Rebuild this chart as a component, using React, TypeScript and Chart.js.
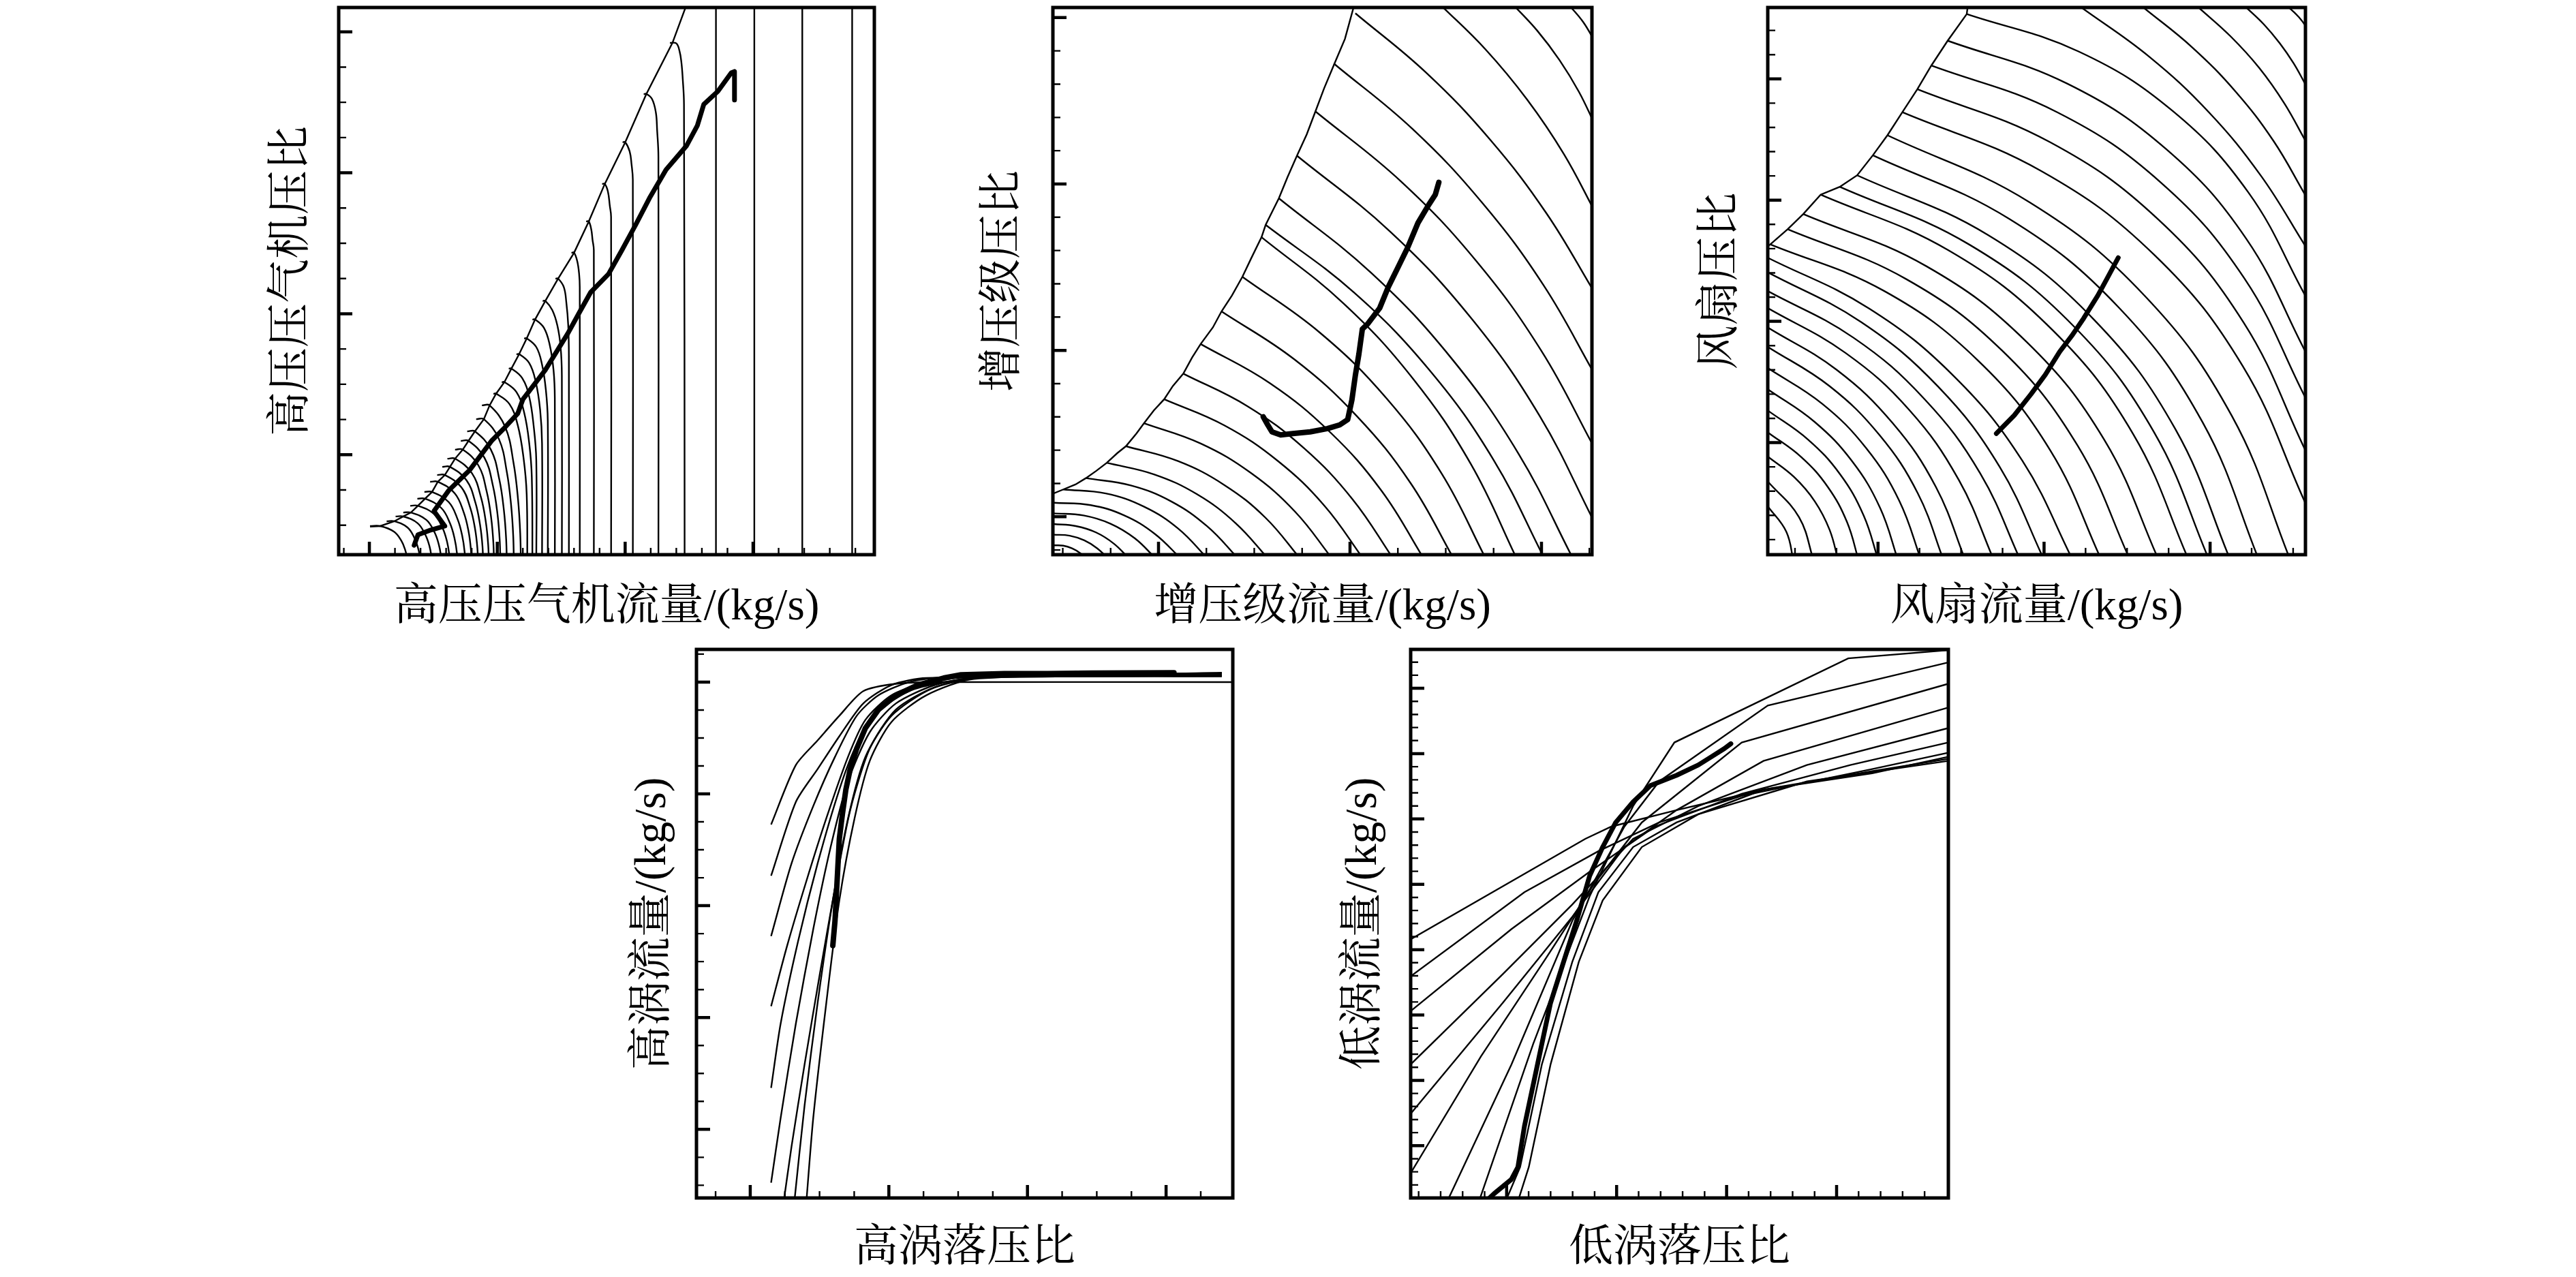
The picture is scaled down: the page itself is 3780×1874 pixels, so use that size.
import React, { useEffect, useRef } from "react";
import { Chart, registerables } from "chart.js";

Chart.register(...registerables);

type Pt = [number, number];

const INK = "#000000";
const FONT_FAMILY = "'Liberation Serif', 'Noto Serif CJK SC', 'Noto Sans CJK SC', serif";

// ================= HPC map (高压压气机) =================
const hpcXMajor = [20, 40, 60, 80];
const hpcXMinor = [16, 24, 28, 32, 36, 44, 48, 52, 56, 64, 68, 72, 76, 84, 88, 92, 96];
const hpcYMajor = [5, 10, 15, 20];
const hpcYMinor = [2.5, 3.75, 6.25, 7.5, 8.75, 11.25, 12.5, 13.75, 16.25, 17.5, 18.75];

const hpcSpeedLines: Pt[][] = [
  [[95.5, 21.5], [95.5, 1.0]],
  [[87.7, 21.5], [87.7, 1.0]],
  [[80.2, 21.5], [80.2, 1.0]],
  [[74.2, 21.5], [74.2, 1.0]],
  [[67.0, 19.61], [68.0, 19.59], [68.5, 19.32], [68.8, 18.91], [69.0, 18.35], [69.2, 17.43], [69.3, 1.0]],
  [[62.9, 17.79], [63.3, 17.8], [64.2, 17.62], [64.8, 17.14], [65.0, 16.51], [65.2, 15.57], [65.2, 1.0]],
  [[59.6, 16.08], [60.0, 16.09], [60.7, 15.76], [61.0, 15.3], [61.2, 14.75], [61.2, 1.0]],
  [[56.4, 14.6], [56.8, 14.61], [57.3, 14.34], [57.6, 13.83], [57.8, 13.44], [57.8, 1.0]],
  [[53.9, 13.27], [54.3, 13.28], [54.7, 12.99], [54.9, 12.62], [55.1, 12.26], [55.1, 1.0]],
  [[51.6, 12.16], [52.0, 12.17], [52.5, 11.87], [52.8, 11.41], [52.9, 10.95], [52.9, 1.0]],
  [[49.1, 11.24], [49.5, 11.25], [50.4, 10.95], [50.8, 10.4], [51.1, 9.58], [51.2, 8.5], [51.2, 1.0]],
  [[47.1, 10.45], [47.5, 10.46], [48.6, 10.13], [49.4, 9.58], [49.9, 8.83], [50.1, 7.8], [50.1, 1.0]],
  [[45.5, 9.79], [45.9, 9.8], [47.3, 9.5], [48.2, 8.9], [48.8, 8.0], [49.0, 7.0], [49.0, 1.0]],
  [[44.2, 9.12], [44.6, 9.13], [46.1, 8.82], [47.0, 8.2], [47.6, 7.3], [47.9, 6.2], [47.9, 1.0]],
  [[43.0, 8.56], [43.4, 8.57], [45.0, 8.25], [46.0, 7.6], [46.7, 6.6], [47.0, 5.4], [47.0, 1.0]],
  [[41.8, 8.05], [42.2, 8.06], [43.9, 7.72], [45.0, 7.05], [45.7, 6.0], [46.1, 4.8], [46.1, 1.0]],
  [[40.7, 7.57], [41.1, 7.58], [43.0, 7.22], [44.2, 6.5], [45.0, 5.4], [45.4, 4.2], [45.5, 1.0]],
  [[39.4, 7.16], [39.8, 7.17], [41.9, 6.8], [43.2, 6.05], [44.1, 4.9], [44.6, 3.6], [44.7, 1.0]],
  [[37.6, 6.75], [38.8, 6.75], [41.25, 5.98], [42.55, 4.7], [43.24, 3.43], [43.59, 2.2], [43.7, 1.0]],
  [[36.7, 6.26], [37.9, 6.26], [40.25, 5.56], [41.5, 4.38], [42.16, 3.22], [42.5, 2.09], [42.6, 1.0]],
  [[35.3, 5.83], [36.5, 5.83], [39.0, 5.18], [40.33, 4.11], [41.03, 3.04], [41.39, 2.0], [41.5, 1.0]],
  [[34.3, 5.49], [35.5, 5.49], [38.0, 4.89], [39.33, 3.89], [40.03, 2.9], [40.39, 1.93], [40.5, 1.0]],
  [[33.4, 5.18], [34.6, 5.18], [37.05, 4.62], [38.35, 3.69], [39.04, 2.77], [39.39, 1.87], [39.5, 1.0]],
  [[32.2, 4.86], [33.4, 4.86], [36.05, 4.34], [37.46, 3.48], [38.2, 2.63], [38.58, 1.8], [38.7, 1.0]],
  [[31.4, 4.57], [32.6, 4.57], [35.2, 4.09], [36.58, 3.3], [37.31, 2.51], [37.69, 1.74], [37.8, 1.0]],
  [[30.6, 4.28], [31.8, 4.28], [34.4, 3.84], [35.78, 3.11], [36.51, 2.39], [36.89, 1.68], [37.0, 1.0]],
  [[29.5, 4.04], [30.7, 4.04], [33.35, 3.63], [34.76, 2.95], [35.5, 2.29], [35.88, 1.63], [36.0, 1.0]],
  [[28.6, 3.68], [29.8, 3.68], [32.4, 3.32], [33.78, 2.72], [34.51, 2.13], [34.89, 1.56], [35.0, 1.0]],
  [[27.5, 3.44], [28.7, 3.44], [31.25, 3.11], [32.6, 2.57], [33.32, 2.03], [33.69, 1.51], [33.8, 1.0]],
  [[26.4, 3.19], [27.6, 3.19], [30.1, 2.9], [31.43, 2.41], [32.13, 1.93], [32.49, 1.46], [32.6, 1.0]],
  [[25.3, 2.95], [26.5, 2.95], [28.9, 2.69], [30.18, 2.25], [30.85, 1.82], [31.19, 1.41], [31.3, 1.0]],
  [[24.1, 2.81], [25.3, 2.81], [27.55, 2.57], [28.75, 2.16], [29.38, 1.77], [29.7, 1.38], [29.8, 1.0]],
  [[22.7, 2.64], [23.9, 2.64], [25.95, 2.42], [27.04, 2.05], [27.61, 1.69], [27.91, 1.34], [28.0, 1.0]],
  [[20.1, 2.47], [21.7, 2.47], [23.85, 2.27], [24.99, 1.95], [25.6, 1.62], [25.91, 1.31], [26.0, 1.0]],
];

const hpcSurgeLine: Pt[] = [
  [69.5, 20.9], [67.4, 19.61], [63.3, 17.79], [60.0, 16.08], [56.8, 14.6], [54.3, 13.27], [52.0, 12.16],
  [49.5, 11.24], [47.5, 10.45], [45.9, 9.79], [44.6, 9.12], [43.4, 8.56], [42.2, 8.05], [41.1, 7.57],
  [39.8, 7.16], [38.8, 6.75], [37.9, 6.26], [36.5, 5.83], [35.5, 5.49], [34.6, 5.18], [33.4, 4.86],
  [32.6, 4.57], [31.8, 4.28], [30.7, 4.04], [29.8, 3.68], [28.7, 3.44], [27.6, 3.19], [26.5, 2.95],
  [25.3, 2.81], [23.9, 2.64], [21.7, 2.47], [20.1, 2.45],
];

const hpcOperatingLine: Pt[] = [
  [27.0, 1.79], [27.6, 2.16], [29.6, 2.33], [31.8, 2.47], [30.1, 3.0], [32.4, 3.73], [35.7, 4.46],
  [39.1, 5.49], [41.2, 5.97], [43.2, 6.46], [44.0, 6.96], [47.5, 8.0], [51.0, 9.29], [52.8, 10.03],
  [54.6, 10.76], [57.4, 11.41], [59.5, 12.26], [61.7, 13.18], [63.8, 14.1], [66.4, 15.11], [69.6, 15.96],
  [71.3, 16.68], [72.3, 17.43], [74.5, 17.89], [76.6, 18.55], [77.1, 18.59], [77.1, 17.58],
];

// ================= Booster map (增压级) =================
const bstXMajor = [20, 40, 60];
const bstXMinor = [10, 15, 25, 30, 35, 45, 50, 55, 65];
const bstYMajor = [1.5, 2.0, 2.5, 3.0];
const bstYMinor = [1.4, 1.6, 1.7, 1.8, 1.9, 2.1, 2.2, 2.3, 2.4, 2.6, 2.7, 2.8, 2.9];

const bstSpeedLines: Pt[][] = [
  [[9.05, 1.414], [10.05, 1.413], [10.96, 1.405], [11.79, 1.391], [12.53, 1.372]],
  [[9.05, 1.446], [10.72, 1.443], [12.24, 1.429], [13.6, 1.405], [14.82, 1.372]],
  [[9.05, 1.478], [11.36, 1.472], [13.46, 1.453], [15.34, 1.419], [17.0, 1.372]],
  [[9.05, 1.51], [12.16, 1.504], [14.99, 1.479], [17.53, 1.435], [19.79, 1.372]],
  [[9.05, 1.542], [12.91, 1.535], [16.42, 1.504], [19.59, 1.449], [22.41, 1.372]],
  [[10.06, 1.582], [14.49, 1.57], [18.5, 1.53], [22.07, 1.464], [25.2, 1.372]],
  [[12.42, 1.616], [17.11, 1.594], [21.33, 1.546], [25.09, 1.471], [28.4, 1.372]],
  [[14.6, 1.662], [19.57, 1.627], [24.05, 1.567], [28.04, 1.481], [31.52, 1.372]],
  [[16.6, 1.712], [22.04, 1.667], [26.89, 1.595], [31.17, 1.497], [34.86, 1.372]],
  [[18.49, 1.781], [24.41, 1.72], [29.67, 1.631], [34.27, 1.515], [38.2, 1.372]],
  [[20.59, 1.853], [26.91, 1.774], [32.49, 1.667], [37.33, 1.533], [41.43, 1.372]],
  [[22.59, 1.93], [29.3, 1.832], [35.19, 1.706], [40.28, 1.552], [44.56, 1.372]],
  [[24.4, 2.019], [31.65, 1.901], [37.96, 1.753], [43.32, 1.577], [47.75, 1.372]],
  [[26.58, 2.117], [34.18, 1.973], [40.76, 1.801], [46.33, 1.601], [50.87, 1.372]],
  [[28.76, 2.221], [36.86, 2.053], [43.81, 1.856], [49.59, 1.629], [54.22, 1.372]],
  [[30.76, 2.34], [39.29, 2.142], [46.58, 1.915], [52.63, 1.658], [57.45, 1.372]],
  [[31.19, 2.377], [40.41, 2.174], [48.35, 1.939], [54.99, 1.671], [60.35, 1.372]],
  [[32.57, 2.457], [42.21, 2.233], [50.54, 1.978], [57.59, 1.69], [63.33, 1.372]],
  [[34.46, 2.585], [44.23, 2.356], [52.68, 2.096], [59.81, 1.803], [65.62, 1.478]],
  [[36.39, 2.718], [45.39, 2.506], [53.26, 2.266], [60.0, 1.998], [65.62, 1.702]],
  [[38.31, 2.862], [46.58, 2.664], [53.88, 2.441], [60.23, 2.195], [65.62, 1.925]],
  [[40.56, 3.013], [48.01, 2.833], [54.67, 2.632], [60.54, 2.411], [65.62, 2.17]],
  [[49.28, 3.043], [54.17, 2.904], [58.52, 2.753], [62.34, 2.59], [65.62, 2.415]],
  [[56.9, 3.043], [59.55, 2.961], [61.89, 2.872], [63.91, 2.777], [65.62, 2.676]],
  [[62.71, 3.043], [64.35, 2.987], [65.62, 2.926]],
];

const bstSurgeLine: Pt[] = [
  [40.49, 3.043], [39.47, 2.936], [38.38, 2.862], [37.29, 2.787], [36.39, 2.718], [35.48, 2.649],
  [34.46, 2.585], [33.48, 2.521], [32.57, 2.457], [31.19, 2.377], [30.76, 2.34], [29.67, 2.276],
  [28.76, 2.221], [27.67, 2.165], [26.58, 2.117], [25.68, 2.069], [24.4, 2.019], [23.5, 1.978],
  [22.59, 1.93], [21.5, 1.893], [20.59, 1.853], [19.5, 1.819], [18.49, 1.781], [17.69, 1.75],
  [16.6, 1.712], [15.69, 1.691], [14.6, 1.662], [13.51, 1.638], [12.42, 1.616], [11.33, 1.597],
  [10.06, 1.582], [8.61, 1.565],
];

const bstOperatingLine: Pt[] = [
  [30.94, 1.8], [31.41, 1.776], [31.85, 1.755], [32.76, 1.746], [34.03, 1.75], [35.84, 1.755],
  [37.66, 1.765], [38.93, 1.776], [39.76, 1.792], [40.2, 1.851], [40.56, 1.925], [40.93, 1.989],
  [41.29, 2.064], [41.83, 2.079], [43.1, 2.127], [44.01, 2.191], [44.92, 2.244], [46.01, 2.308],
  [47.1, 2.383], [48.19, 2.436], [48.91, 2.468], [49.28, 2.505],
];

// ================= Fan map (风扇) =================
const fanXMajor = [200, 300, 400];
const fanXMinor = [150, 175, 225, 250, 275, 325, 350, 375, 425, 450];
const fanYMajor = [1.2, 1.4, 1.6, 1.8];
const fanYMinor = [1.04, 1.08, 1.12, 1.16, 1.24, 1.28, 1.32, 1.36, 1.44, 1.48, 1.52, 1.56, 1.64, 1.68, 1.72, 1.76, 1.84, 1.88];

const fanSpeedLines: Pt[][] = [
  [[442.24, 1.93], [453.42, 1.902], [462.35, 1.868]],
  [[421.71, 1.918], [432.38, 1.89], [441.88, 1.859], [450.23, 1.826], [457.42, 1.791]],
  [[392.99, 1.918], [412.4, 1.87], [429.62, 1.818], [444.62, 1.76], [457.42, 1.698]],
  [[359.74, 1.918], [389.25, 1.852], [415.37, 1.779], [438.09, 1.698], [457.42, 1.608]],
  [[322.39, 1.918], [363.16, 1.837], [399.26, 1.745], [430.67, 1.64], [457.42, 1.524]],
  [[253.44, 1.907], [320.98, 1.845], [377.49, 1.747], [422.97, 1.613], [457.42, 1.442]],
  [[241.95, 1.863], [314.1, 1.792], [374.06, 1.683], [421.83, 1.536], [457.42, 1.35]],
  [[232.1, 1.822], [307.94, 1.745], [370.77, 1.628], [420.6, 1.471], [457.42, 1.274]],
  [[223.69, 1.783], [303.32, 1.696], [368.82, 1.568], [420.19, 1.398], [457.42, 1.187]],
  [[214.66, 1.745], [298.3, 1.648], [366.64, 1.509], [419.68, 1.326], [457.42, 1.1]],
  [[205.67, 1.707], [291.53, 1.596], [360.67, 1.442], [413.1, 1.244], [448.8, 1.003]],
  [[196.89, 1.674], [279.06, 1.569], [345.29, 1.422], [395.58, 1.233], [429.92, 1.003]],
  [[187.45, 1.641], [266.49, 1.542], [330.37, 1.402], [379.11, 1.222], [412.69, 1.003]],
  [[176.98, 1.622], [254.77, 1.527], [317.86, 1.392], [366.26, 1.217], [399.96, 1.003]],
  [[165.45, 1.609], [242.58, 1.517], [305.32, 1.385], [353.68, 1.214], [387.65, 1.003]],
  [[154.98, 1.577], [229.07, 1.491], [289.54, 1.366], [336.38, 1.204], [369.59, 1.003]],
  [[145.58, 1.552], [216.82, 1.47], [275.03, 1.351], [320.21, 1.195], [352.35, 1.003]],
  [[135.12, 1.527], [203.79, 1.45], [260.01, 1.336], [303.79, 1.187], [335.12, 1.003]],
  [[133.6, 1.505], [194.8, 1.421], [245.91, 1.309], [286.94, 1.17], [317.88, 1.003]],
  [[133.6, 1.481], [189.75, 1.399], [236.31, 1.292], [273.27, 1.16], [300.64, 1.003]],
  [[133.6, 1.45], [185.25, 1.373], [227.91, 1.272], [261.59, 1.149], [286.28, 1.003]],
  [[133.6, 1.422], [180.4, 1.348], [218.77, 1.254], [248.73, 1.138], [270.27, 1.003]],
  [[133.6, 1.39], [175.12, 1.32], [208.86, 1.232], [234.83, 1.127], [253.03, 1.003]],
  [[133.6, 1.358], [170.87, 1.293], [201.01, 1.212], [224.02, 1.116], [239.9, 1.003]],
  [[133.6, 1.323], [166.43, 1.264], [192.83, 1.191], [212.81, 1.104], [226.36, 1.003]],
  [[133.6, 1.288], [161.88, 1.234], [184.45, 1.169], [201.28, 1.092], [212.4, 1.003]],
  [[133.6, 1.253], [157.85, 1.205], [177.08, 1.148], [191.3, 1.08], [200.5, 1.003]],
  [[133.6, 1.217], [153.82, 1.176], [169.72, 1.127], [181.32, 1.069], [188.6, 1.003]],
  [[133.6, 1.177], [149.52, 1.143], [161.94, 1.103], [170.86, 1.056], [176.28, 1.003]],
  [[133.6, 1.136], [152.41, 1.077], [161.51, 1.003]],
  [[133.6, 1.095], [144.76, 1.053], [149.2, 1.003]],
];

const fanSurgeLine: Pt[] = [
  [254.26, 1.925], [253.44, 1.907], [241.95, 1.863], [232.1, 1.822], [223.69, 1.783], [214.66, 1.745],
  [205.67, 1.707], [196.89, 1.674], [187.45, 1.641], [176.98, 1.622], [165.45, 1.609], [154.98, 1.577],
  [145.58, 1.552], [135.12, 1.527], [131.96, 1.52],
];

const fanOperatingLine: Pt[] = [
  [271.25, 1.215], [282.05, 1.245], [292.15, 1.28], [300.76, 1.312], [309.42, 1.35], [316.65, 1.376],
  [323.83, 1.405], [332.45, 1.443], [338.19, 1.472], [344.68, 1.505],
];

// ================= HPT map (高涡) =================
const hptXMajor = [2, 3, 4, 5];
const hptXMinor = [1.75, 2.25, 2.5, 2.75, 3.25, 3.5, 3.75, 4.25, 4.5, 4.75, 5.25];
const hptYMajor = [10, 20, 30, 40, 50];
const hptYMinor = [5, 7.5, 12.5, 15, 17.5, 22.5, 25, 27.5, 32.5, 35, 37.5, 42.5, 45, 47.5, 52.5];

const hptSpeedLines: Pt[][] = [
  [[2.1505, 37.26], [2.3292, 42.58], [2.486, 44.781], [2.6427, 46.982], [2.8152, 49.184], [3.0503, 49.844], [3.364, 49.991], [5.4804, 49.991]],
  [[2.1505, 32.674], [2.3292, 39.278], [2.486, 42.213], [2.6427, 45.148], [2.8152, 48.083], [3.019, 49.734], [3.2698, 50.358], [5.402, 50.651]],
  [[2.1505, 27.281], [2.2978, 33.775], [2.4546, 38.911], [2.6114, 43.314], [2.7682, 46.982], [2.9249, 48.817], [3.1444, 49.991], [3.3953, 50.431], [5.402, 50.614]],
  [[2.1505, 21.007], [2.2665, 26.437], [2.4076, 32.307], [2.5487, 37.81], [2.7055, 43.314], [2.8309, 46.616], [3.019, 48.817], [3.2698, 49.917], [3.5207, 50.394], [5.402, 50.578]],
  [[2.1505, 13.707], [2.2195, 19.466], [2.3449, 26.804], [2.486, 33.775], [2.6427, 40.379], [2.7682, 44.414], [2.9249, 47.349], [3.1444, 49.184], [3.3953, 49.991], [3.6775, 50.431], [5.402, 50.541]],
  [[2.1505, 5.231], [2.2195, 11.028], [2.3292, 19.466], [2.4546, 27.905], [2.58, 35.242], [2.7055, 41.112], [2.8622, 45.515], [3.0503, 48.083], [3.3326, 49.734], [3.6775, 50.468], [5.402, 50.504]],
  [[2.2351, 2.957], [2.2978, 8.46], [2.3919, 15.798], [2.5017, 23.869], [2.6114, 31.574], [2.7211, 38.544], [2.8622, 44.047], [3.0503, 47.533], [3.3326, 49.55], [3.7088, 50.504], [5.402, 50.761]],
  [[2.3135, 2.957], [2.3919, 12.129], [2.486, 21.301], [2.5957, 30.473], [2.7055, 37.81], [2.8309, 43.314], [3.019, 46.982], [3.3012, 49.367], [3.6775, 50.431], [5.402, 50.798]],
  [[2.4013, 2.957], [2.4546, 11.028], [2.5487, 21.301], [2.6427, 30.473], [2.7525, 37.81], [2.8622, 42.947], [3.019, 46.432], [3.2698, 48.817], [3.6148, 50.284], [5.402, 50.835]],
];

const hptOperatingLine: Pt[] = [
  [2.5957, 26.437], [2.6114, 28.638], [2.6271, 32.307], [2.6427, 35.976], [2.6647, 38.177], [2.6898, 40.379],
  [2.7211, 42.213], [2.7682, 44.047], [2.8309, 45.882], [2.9249, 47.533], [3.0503, 48.817], [3.2071, 49.734],
  [3.3953, 50.358], [3.5207, 50.651], [3.8343, 50.761], [4.1478, 50.761], [4.4613, 50.798], [5.0571, 50.835],
];

// ================= LPT map (低涡) =================
const lptXMajor = [2, 3, 4, 5];
const lptXMinor = [1.2, 1.4, 1.6, 1.8, 2.2, 2.4, 2.6, 2.8, 3.2, 3.4, 3.6, 3.8, 4.2, 4.4, 4.6, 4.8, 5.2, 5.4, 5.6, 5.8];
const lptYMajor = [10, 20, 30, 40, 50, 60, 70, 80];
const lptYMinor = [
  4, 6, 8, 12, 14, 16, 18, 22, 24, 26, 28, 32, 34, 36, 38, 42, 44, 46, 48, 52, 54, 56, 58,
  62, 64, 66, 68, 72, 74, 76, 78, 82, 84,
];

const lptSpeedLines: Pt[][] = [
  [[1.7275, 0.451], [2.2412, 25.566], [2.7549, 48.169], [3.15, 61.982], [3.5254, 71.714], [5.1059, 84.586], [6.0147, 85.842]],
  [[1.4312, 0.451], [2.0436, 22.427], [2.5968, 44.402], [3.071, 58.843], [3.3871, 65.75], [4.3749, 77.365], [6.0147, 83.958]],
  [[1.1269, 5.788], [1.7671, 23.682], [2.3598, 38.751], [2.7944, 50.053], [3.229, 59.471], [4.1378, 71.714], [6.0147, 80.693]],
  [[1.1269, 14.892], [1.9646, 31.845], [2.5968, 45.03], [3.071, 55.704], [3.5451, 61.355], [4.3354, 68.889], [6.0147, 77.051]],
  [[1.1269, 22.427], [1.9646, 36.24], [2.5968, 46.914], [3.15, 56.96], [3.7427, 61.982], [4.7305, 68.261], [6.0147, 73.912]],
  [[1.1269, 30.589], [2.0436, 43.146], [2.7549, 51.936], [3.3476, 58.843], [4.1378, 63.866], [5.1257, 68.261], [6.0147, 71.714]],
  [[1.1269, 35.926], [2.1622, 48.797], [2.8339, 55.076], [3.3871, 59.471], [4.1378, 63.552], [5.3232, 67.633], [6.0147, 70.145]],
  [[1.1269, 41.577], [2.7154, 56.96], [2.9524, 58.843], [3.5451, 61.355], [4.3354, 64.494], [5.3232, 67.005], [6.0147, 69.517]],
  [[1.9646, 0.451], [2.1227, 6.73], [2.3202, 22.427], [2.5968, 38.123], [2.8339, 48.797], [3.15, 55.704], [3.5451, 59.471], [4.3354, 64.494], [5.3232, 67.319], [6.0147, 69.203]],
  [[2.0832, 0.451], [2.2017, 6.73], [2.3993, 22.427], [2.6561, 38.123], [2.8734, 47.541], [3.229, 55.704], [3.7427, 60.727], [4.7305, 65.75], [6.0147, 68.889]],
];

const lptOperatingLine: Pt[] = [
  [1.8461, 2.021], [1.8856, 2.649], [2.0436, 4.845], [2.1029, 6.73], [2.1622, 12.999], [2.2412, 19.287],
  [2.3202, 25.566], [2.3993, 31.845], [2.5178, 38.123], [2.6363, 44.402], [2.7549, 51.309], [2.8734, 55.704],
  [2.992, 59.471], [3.15, 62.61], [3.3081, 65.122], [3.5451, 66.691], [3.7427, 68.261], [3.8612, 69.517],
  [3.9798, 70.773], [4.0391, 71.526],
];

// ================= layout / styling =================
interface PanelDef {
  key: string;
  box: { left: number; top: number; width: number; height: number };
  xRange: [number, number];
  yRange: [number, number];
  xTitle: string;
  yTitle: string;
  xMajor: number[];
  xMinor: number[];
  yMajor: number[];
  yMinor: number[];
  lines: Pt[][];
  tension: number;
  surge?: Pt[];
  op: Pt[];
  opWidth: number;
  xGap: number;
  yGap: number;
  padB: number;
}

const PAD_L = 140;
const PAD_R = 20;
const PAD_T = 10;
const FONT_SIZE = 65;
const LINE_H = FONT_SIZE * 1.2;
const THIN_W = 2.4;

const panels: PanelDef[] = [
  {
    key: "hpc",
    box: { left: 497, top: 11, width: 786, height: 803 },
    xRange: [15.2, 98.97],
    yRange: [1.454, 20.864],
    xTitle: "高压压气机流量/(kg/s)",
    yTitle: "高压压气机压比",
    xMajor: hpcXMajor, xMinor: hpcXMinor, yMajor: hpcYMajor, yMinor: hpcYMinor,
    lines: hpcSpeedLines, tension: 0.4, surge: hpcSurgeLine,
    op: hpcOperatingLine, opWidth: 7,
    xGap: 78, yGap: 68, padB: 140,
  },
  {
    key: "bst",
    box: { left: 1545, top: 11, width: 791, height: 803 },
    xRange: [8.968, 65.27],
    yRange: [1.3859, 3.0304],
    xTitle: "增压级流量/(kg/s)",
    yTitle: "增压级压比",
    xMajor: bstXMajor, xMinor: bstXMinor, yMajor: bstYMajor, yMinor: bstYMinor,
    lines: bstSpeedLines, tension: 0.4, surge: bstSurgeLine,
    op: bstOperatingLine, opWidth: 8,
    xGap: 78, yGap: 72, padB: 140,
  },
  {
    key: "fan",
    box: { left: 2594, top: 11, width: 789, height: 803 },
    xRange: [133.6, 457.42],
    yRange: [1.0151, 1.9178],
    xTitle: "风扇流量/(kg/s)",
    yTitle: "风扇压比",
    xMajor: fanXMajor, xMinor: fanXMinor, yMajor: fanYMajor, yMinor: fanYMinor,
    lines: fanSpeedLines, tension: 0.4, surge: fanSurgeLine,
    op: fanOperatingLine, opWidth: 7,
    xGap: 78, yGap: 68, padB: 140,
  },
  {
    key: "hpt",
    box: { left: 1022, top: 953, width: 787, height: 805 },
    xRange: [1.6121, 5.4813],
    yRange: [3.8635, 52.919],
    xTitle: "高涡落压比",
    yTitle: "高涡流量/(kg/s)",
    xMajor: hptXMajor, xMinor: hptXMinor, yMajor: hptYMajor, yMinor: hptYMinor,
    lines: hptSpeedLines, tension: 0.25,
    op: hptOperatingLine, opWidth: 8,
    xGap: 75, yGap: 63, padB: 120,
  },
  {
    key: "lpt",
    box: { left: 2070, top: 953, width: 789, height: 805 },
    xRange: [1.1276, 6.0161],
    yRange: [2.001, 85.955],
    xTitle: "低涡落压比",
    yTitle: "低涡流量/(kg/s)",
    xMajor: lptXMajor, xMinor: lptXMinor, yMajor: lptYMajor, yMinor: lptYMinor,
    lines: lptSpeedLines, tension: 0,
    op: lptOperatingLine, opWidth: 7,
    xGap: 75, yGap: 68, padB: 120,
  },
];

const framePlugin = {
  id: "frame",
  afterDraw(chart: any, _args: any, opts: any) {
    const { ctx, chartArea: a } = chart;
    const xs = chart.scales.x;
    const ys = chart.scales.y;
    ctx.save();
    ctx.strokeStyle = INK;
    ctx.lineCap = "butt";
    const xTicks = (vals: number[], len: number, w: number) => {
      ctx.lineWidth = w;
      ctx.beginPath();
      for (const v of vals) {
        const px = xs.getPixelForValue(v);
        ctx.moveTo(px, a.bottom);
        ctx.lineTo(px, a.bottom - len);
      }
      ctx.stroke();
    };
    const yTicks = (vals: number[], len: number, w: number) => {
      ctx.lineWidth = w;
      ctx.beginPath();
      for (const v of vals) {
        const py = ys.getPixelForValue(v);
        ctx.moveTo(a.left, py);
        ctx.lineTo(a.left + len, py);
      }
      ctx.stroke();
    };
    xTicks(opts.xMinor, 10, 2.4);
    xTicks(opts.xMajor, 19, 4.5);
    yTicks(opts.yMinor, 11, 2.4);
    yTicks(opts.yMajor, 20, 4.5);
    ctx.lineWidth = 5;
    ctx.strokeRect(a.left, a.top, a.right - a.left, a.bottom - a.top);
    ctx.restore();
  },
};

function Panel({ def }: { def: PanelDef }) {
  const ref = useRef<HTMLCanvasElement | null>(null);
  const cw = def.box.width + PAD_L + PAD_R;
  const ch = def.box.height + PAD_T + def.padB;
  const cl = def.box.left - PAD_L;
  const ct = def.box.top - PAD_T;

  useEffect(() => {
    if (!ref.current) return;
    const thin = (data: Pt[], tension: number) => ({
      data,
      borderColor: INK,
      borderWidth: THIN_W,
      pointRadius: 0,
      pointHoverRadius: 0,
      tension,
      fill: false,
    });
    const datasets: any[] = def.lines.map((l) => thin(l, def.tension));
    if (def.surge) datasets.push(thin(def.surge, 0));
    datasets.push({
      data: def.op,
      borderColor: INK,
      borderWidth: def.opWidth,
      pointRadius: 0,
      pointHoverRadius: 0,
      tension: 0,
      fill: false,
      borderJoinStyle: "round",
      borderCapStyle: "round",
    });

    const titleFont = { family: FONT_FAMILY, size: FONT_SIZE, lineHeight: 1.2, weight: "normal" as const };

    const chart = new Chart(ref.current, {
      type: "line",
      data: { datasets },
      options: {
        animation: false,
        responsive: false,
        maintainAspectRatio: false,
        events: [],
        layout: { padding: { top: PAD_T, right: PAD_R, left: 0, bottom: 0 } },
        plugins: {
          legend: { display: false },
          tooltip: { enabled: false },
          // @ts-ignore
          frame: { xMajor: def.xMajor, xMinor: def.xMinor, yMajor: def.yMajor, yMinor: def.yMinor },
        },
        scales: {
          x: {
            type: "linear",
            position: "bottom",
            min: def.xRange[0],
            max: def.xRange[1],
            grid: { display: false },
            border: { display: false },
            ticks: { display: false },
            title: {
              display: true,
              text: def.xTitle,
              color: INK,
              font: titleFont,
              padding: { top: 0, bottom: def.padB - def.xGap - LINE_H / 2 },
            },
            afterFit: (s: any) => {
              s.height = def.padB;
            },
          },
          y: {
            type: "linear",
            position: "left",
            min: def.yRange[0],
            max: def.yRange[1],
            grid: { display: false },
            border: { display: false },
            ticks: { display: false },
            title: {
              display: true,
              text: def.yTitle,
              color: INK,
              font: titleFont,
              padding: { top: PAD_L - def.yGap - LINE_H / 2, bottom: 0 },
            },
            afterFit: (s: any) => {
              s.width = PAD_L;
            },
          },
        },
      } as any,
      plugins: [framePlugin],
    });
    return () => chart.destroy();
  }, [def]);

  return (
    <canvas
      ref={ref}
      width={cw}
      height={ch}
      style={{ position: "absolute", left: cl, top: ct, width: cw, height: ch }}
    />
  );
}

export default function App() {
  return (
    <div
      style={{
        position: "fixed",
        left: 0,
        top: 0,
        width: 3780,
        height: 1874,
        background: "#ffffff",
        overflow: "hidden",
      }}
    >
      {panels.map((p) => (
        <Panel key={p.key} def={p} />
      ))}
    </div>
  );
}
